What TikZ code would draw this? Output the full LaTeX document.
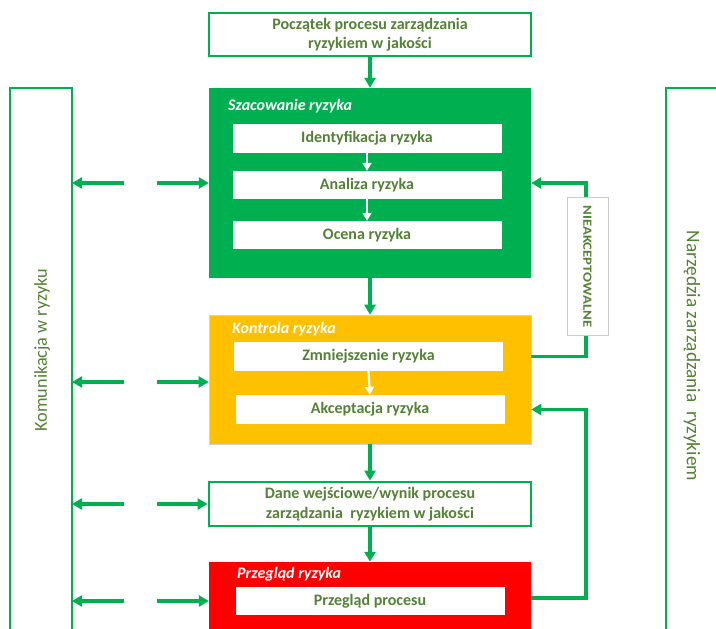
\documentclass[tikz,border=0pt]{standalone}
\usepackage{fontspec}
\setmainfont{Carlito}
\usetikzlibrary{arrows.meta}
\definecolor{grn}{HTML}{00B050}
\definecolor{txtgrn}{HTML}{538135}
\definecolor{amber}{HTML}{FFC000}
\definecolor{rred}{HTML}{FF0000}
\begin{document}
\begin{tikzpicture}[x=1pt,y=-1pt,
  boxtxt/.style={font=\fontsize{16}{19.5}\selectfont\bfseries, text=txtgrn, align=center},
  outline/.style={draw=grn, line width=2.8pt, fill=white, inner sep=0pt, boxtxt},
  stage/.style={inner sep=0pt, minimum width=322pt},
  inner/.style={fill=white, inner sep=0pt, minimum width=269pt, minimum height=28pt, boxtxt},
  stagelbl/.style={anchor=west, text=white, font=\fontsize{16}{18}\selectfont\bfseries\itshape, inner sep=0pt},
  arr/.style={draw=grn, line width=3.2pt, -{Triangle[length=10pt,width=11pt]}},
  warr/.style={draw=white, line width=2.2pt, -{Triangle[length=8pt,width=9pt]}},
  sidetxt/.style={text=txtgrn}
]
\useasboundingbox (0,0) rectangle (716,629);
\clip (0,0) rectangle (716,629);

% side panels
\draw[grn, line width=2.8pt] (10,88) rectangle (72,680);
\node[sidetxt, rotate=90, font=\fontsize{18.2}{20}\selectfont] (komm) at (42,350) {Komunikacja w ryzyku};
\coordinate (kommE) at (72,88);
\draw[grn, line width=2.8pt] (666,88) rectangle (760,680);
\node[sidetxt, rotate=-90, font=\fontsize{19.3}{21}\selectfont] (narz) at (692,356) {Narzędzia zarządzania\ \ ryzykiem};

% main stages
\node[outline, minimum width=322pt, minimum height=43pt] (start) at (370,34.5)
  {Początek procesu zarządzania\\ryzykiem w jakości};

\node[stage, fill=grn, minimum height=190pt] (szac) at (370,183) {};
\node[stagelbl] at (228,106) {Szacowanie ryzyka};
\node[inner, minimum height=29pt] (ident) at (367,138.5) {Identyfikacja ryzyka};
\node[inner] (anal) at (367,185) {Analiza ryzyka};
\node[inner] (ocena) at (367,235) {Ocena ryzyka};

\node[stage, fill=amber, draw=gray!35, line width=0.6pt, minimum height=129pt] (kontr) at (370,379.5) {};
\node[stagelbl] at (232,329) {Kontrola ryzyka};
\node[inner, minimum height=29pt] (zmn) at (368.5,356.5) {Zmniejszenie ryzyka};
\node[inner, minimum height=29pt] (akc) at (370,409.5) {Akceptacja ryzyka};

\node[outline, minimum width=322pt, minimum height=44pt] (dane) at (370,504)
  {Dane wejściowe/wynik procesu\\zarządzania\ \ ryzykiem w jakości};

\node[stage, fill=rred, minimum height=100pt] (przeg) at (370,612) {};
\node[stagelbl] at (237,574) {Przegląd ryzyka};
\node[inner, minimum height=28pt] (proc) at (370,601) {Przegląd procesu};

% flow between stages
\draw[arr] (start.south) -- (szac.north);
\draw[arr] (szac.south) -- (kontr.north);
\draw[arr] (kontr.south) -- (dane.north);
\draw[arr] (dane.south) -- (przeg.north);
\draw[warr] (ident.south) -- (anal.north);
\draw[warr] (anal.south) -- (ocena.north);
\draw[warr] (zmn.south) -- (akc.north);

% feedback loops on the right
\coordinate (loopx) at (586,0);
\draw[arr] (kontr.east |- zmn.center) -| (loopx |- szac.east) -- (szac.east);
\draw[arr] (przeg.east |- 0,598) -| (loopx |- akc.center) -- (kontr.east |- akc.center);
\node[draw=gray!40, line width=0.8pt, fill=white, minimum width=41pt, minimum height=138pt, inner sep=0pt] (nieak) at (587.5,266.5) {};
\node[rotate=-90, text=txtgrn, font=\fontsize{12.5}{14}\selectfont\bfseries] at (nieak.center) {\scalebox{1.18}[1]{NIEAKCEPTOWALNE}};

% communication arrows on the left
\foreach \yy/\tgt in {183/szac, 382/kontr, 504/dane, 601/przeg}{
  \coordinate (cl) at (124,\yy);
  \coordinate (cr) at (157,\yy);
  \draw[arr] (cl) -- (kommE |- cl);
  \draw[arr] (cr) -- (\tgt.west |- cr);
}
\end{tikzpicture}
\end{document}
